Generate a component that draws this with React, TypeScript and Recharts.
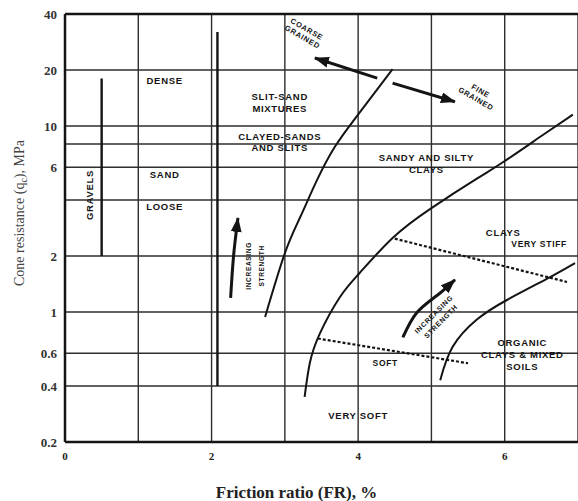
import React from 'react';
import {
  ComposedChart,
  Line,
  XAxis,
  YAxis,
  CartesianGrid,
  ReferenceLine,
  ReferenceDot,
} from 'recharts';

// friction ratio (%) grid lines and the ones that carry a label
const frGrid = [0, 1, 2, 3, 4, 5, 6, 7];
const frLabels = [0, 2, 4, 6];

// cone resistance (MPa) grid lines and labelled ticks
const qcGrid = [0.2, 0.4, 0.6, 0.8, 1, 2, 4, 6, 8, 10, 20, 40];
const qcLabels = [0.2, 0.4, 0.6, 0.8, 1, 2, 6, 10, 20, 40];

// zone boundaries as [friction ratio, cone resistance]
const gravelBound = [[0.5, 2], [0.5, 18]];
const sandBound = [[2.08, 0.4], [2.08, 32]];
const coarseBound = [
  [2.73, 0.94], [3.0, 2.07], [3.21, 3.24], [3.44, 5.13], [3.68, 7.7], [3.96, 11.0], [4.47, 20.2],
];
const clayBound = [
  [3.27, 0.35], [3.34, 0.53], [3.48, 0.77], [3.75, 1.2], [4.02, 1.62], [4.47, 2.5],
  [5.0, 3.62], [5.62, 5.21], [5.98, 6.4], [6.52, 8.94], [6.93, 11.5],
];
const organicBound = [
  [5.12, 0.43], [5.29, 0.65], [5.62, 0.91], [6.03, 1.16], [6.62, 1.54], [6.96, 1.83],
];
const stiffLine = [[4.5, 2.48], [6.85, 1.45]];
const softLine = [[3.45, 0.72], [5.5, 0.53]];

// arrows, drawn from tail to head
const coarseArrow = [[4.26, 18.1], [3.41, 23.2]];
const fineArrow = [[4.47, 17.0], [5.32, 13.5]];
const sandStrength = [[2.26, 1.19], [2.3, 2.0], [2.36, 3.2]];
const clayStrength = [[4.61, 0.73], [4.8, 0.99], [5.08, 1.23], [5.32, 1.49]];

// zone names placed at [friction ratio, cone resistance]
const zoneNames = [
  { at: [1.36, 17.5], lines: ['DENSE'] },
  { at: [1.36, 5.45], lines: ['SAND'] },
  { at: [1.36, 3.67], lines: ['LOOSE'] },
  { at: [0.34, 4.26], lines: ['GRAVELS'], tilt: -90 },
  { at: [2.93, 13.3], lines: ['SLIT-SAND', 'MIXTURES'] },
  { at: [2.93, 8.15], lines: ['CLAYED-SANDS', 'AND SLITS'], gap: 11 },
  { at: [4.93, 6.25], lines: ['SANDY AND SILTY', 'CLAYS'] },
  { at: [5.98, 2.66], lines: ['CLAYS'] },
  { at: [6.47, 2.32], lines: ['VERY STIFF'], size: 8.5 },
  { at: [4.37, 0.532], lines: ['SOFT'], size: 8.5 },
  { at: [4.0, 0.276], lines: ['VERY SOFT'] },
  { at: [6.24, 0.587], lines: ['ORGANIC', 'CLAYS & MIXED', 'SOILS'] },
  { at: [3.27, 31.6], lines: ['COARSE', 'GRAINED'], tilt: 30, size: 7.5, gap: 9 },
  { at: [5.64, 14.7], lines: ['FINE', 'GRAINED'], tilt: 30, size: 7.5, gap: 9 },
  { at: [2.59, 1.77], lines: ['INCREASING', 'STRENGTH'], tilt: -90, size: 6.5, gap: 13 },
  { at: [5.08, 0.93], lines: ['INCREASING', 'STRENGTH'], tilt: -45, size: 7, gap: 10 },
];

const pts = (arr: number[][]) => arr.map(([fr, qc]) => ({ fr, qc }));

const INK = '#141414';

function ZoneText({ viewBox, lines, tilt = 0, size = 9.5, gap = 12 }: any) {
  const cx = viewBox.x + viewBox.width / 2;
  const cy = viewBox.y + viewBox.height / 2;
  const first = -((lines.length - 1) * gap) / 2;
  return (
    <text
      transform={`rotate(${tilt} ${cx} ${cy})`}
      textAnchor="middle"
      fontFamily="'Liberation Sans', Arial, sans-serif"
      fontWeight={700}
      fontSize={size}
      letterSpacing={0.7}
      fill={INK}
    >
      {lines.map((l: string, i: number) => (
        <tspan key={i} x={cx} y={cy + first + i * gap} dy="0.35em">
          {l}
        </tspan>
      ))}
    </text>
  );
}

function YTitle({ viewBox }: any) {
  const x = viewBox.x + 19;
  const y = viewBox.y + viewBox.height / 2 - 15;
  return (
    <text
      x={x}
      y={y}
      transform={`rotate(-90 ${x} ${y})`}
      textAnchor="middle"
      dy="0.35em"
      fontFamily="'Liberation Serif', serif"
      fontSize={14}
      fill="#444"
    >
      Cone resistance (q<tspan fontSize={10} dy={3}>c</tspan>
      <tspan dy={-3}>), MPa</tspan>
    </text>
  );
}

function XTitle({ viewBox }: any) {
  return (
    <text
      x={viewBox.x + viewBox.width / 2 - 25}
      y={viewBox.y + 56}
      textAnchor="middle"
      fontFamily="'Liberation Serif', serif"
      fontWeight={700}
      fontSize={17}
      fill="#222"
    >
      Friction ratio (FR), %
    </text>
  );
}

const boundary = (data: number[][], key: string, opts: any = {}) => (
  <Line
    key={key}
    data={pts(data)}
    dataKey="qc"
    type={opts.type ?? 'natural'}
    stroke={INK}
    strokeWidth={opts.width ?? 2}
    strokeDasharray={opts.dash}
    markerEnd={opts.arrow ? 'url(#head)' : undefined}
    dot={false}
    activeDot={false}
    legendType="none"
    isAnimationActive={false}
  />
);

export default function App() {
  return (
    <div style={{ position: 'absolute', left: 0, top: 0, width: 578, height: 501, background: '#fff' }}>
      <ComposedChart width={578} height={501} margin={{ top: 14, right: 0, bottom: 0, left: 0 }}>
        <defs>
          <marker
            id="head"
            markerUnits="userSpaceOnUse"
            markerWidth={15}
            markerHeight={11}
            refX={14}
            refY={5.5}
            orient="auto"
          >
            <path d="M0,0 L15,5.5 L0,11 Z" fill={INK} />
          </marker>
        </defs>
        <CartesianGrid stroke="#2e2e2e" strokeWidth={1.4} />
        <XAxis
          type="number"
          dataKey="fr"
          domain={[0, 7]}
          ticks={frGrid}
          allowDataOverflow
          height={59}
          tickSize={0}
          tickMargin={10}
          tickLine={false}
          axisLine={{ stroke: INK, strokeWidth: 2.5 }}
          tickFormatter={(v: number) => (frLabels.includes(v) ? String(v) : '')}
          tick={{ fontSize: 11, fontWeight: 700, fill: '#222', fontFamily: "'Liberation Serif', serif" }}
          label={<XTitle />}
        />
        <YAxis
          type="number"
          dataKey="qc"
          scale="log"
          domain={[0.2, 40]}
          ticks={qcGrid}
          allowDataOverflow
          width={65}
          tickSize={0}
          tickMargin={8}
          tickLine={false}
          axisLine={{ stroke: INK, strokeWidth: 2.5 }}
          tickFormatter={(v: number) => (qcLabels.includes(v) ? String(v) : '')}
          tick={{ fontSize: 13, fontWeight: 700, fill: '#333', fontFamily: "'Liberation Serif', serif" }}
          label={<YTitle />}
        />
        <ReferenceLine y={40} stroke={INK} strokeWidth={2.5} ifOverflow="visible" />

        {boundary(gravelBound, 'gravel', { type: 'linear', width: 2.4 })}
        {boundary(sandBound, 'sand', { type: 'linear', width: 2.4 })}
        {boundary(coarseBound, 'coarse')}
        {boundary(clayBound, 'clay')}
        {boundary(organicBound, 'organic')}
        {boundary(stiffLine, 'stiff', { type: 'linear', width: 2.2, dash: '3 2' })}
        {boundary(softLine, 'soft', { type: 'linear', width: 2.2, dash: '3 2' })}
        {boundary(coarseArrow, 'coarseArrow', { type: 'linear', width: 3, arrow: true })}
        {boundary(fineArrow, 'fineArrow', { type: 'linear', width: 3, arrow: true })}
        {boundary(sandStrength, 'sandStrength', { width: 3, arrow: true })}
        {boundary(clayStrength, 'clayStrength', { width: 3, arrow: true })}

        {zoneNames.map((z, i) => (
          <ReferenceDot
            key={i}
            x={z.at[0]}
            y={z.at[1]}
            r={0}
            fill="none"
            stroke="none"
            label={<ZoneText lines={z.lines} tilt={z.tilt} size={z.size} gap={z.gap} />}
          />
        ))}
      </ComposedChart>
    </div>
  );
}
